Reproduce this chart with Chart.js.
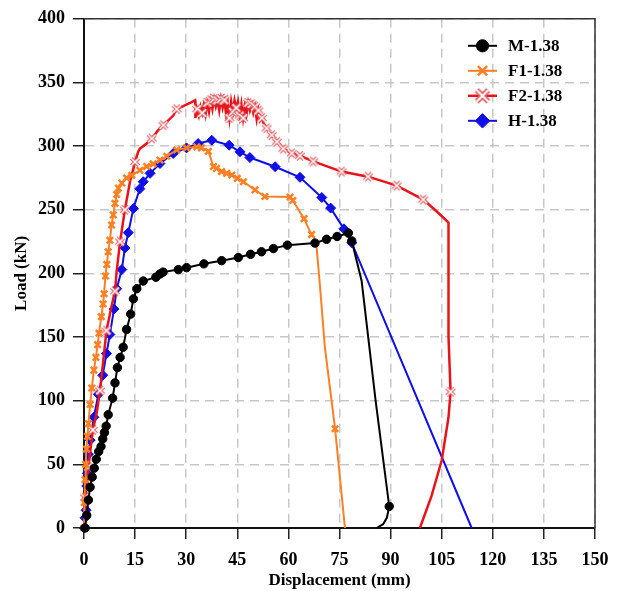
<!DOCTYPE html>
<html>
<head>
<meta charset="utf-8">
<script src="https://cdn.jsdelivr.net/npm/chart.js@4.4.0/dist/chart.umd.min.js"></script>
<style>
  html, body { margin: 0; padding: 0; background: #fff; }
</style>
</head>
<body>
<canvas id="myChart" width="623" height="591"></canvas>
<script>
// axis ticks
const xTicks = [0, 15, 30, 45, 60, 75, 90, 105, 120, 135, 150];
const yTicks = [0, 50, 100, 150, 200, 250, 300, 350, 400];

function upTo(n) { return Array.from({length: n}, (_, i) => i); }

// M-1.38  (last 6 points = unloading branch)
const mDisp = [0.3, 0.8, 1.3, 1.8, 2.4, 3.0, 3.6, 4.3, 5.0, 5.5, 6.0, 6.5, 7.1, 8.4, 9.1, 9.8, 10.6, 11.5, 12.5, 13.7,
               14.5, 15.5, 17.4, 21.1, 22.3, 23.2, 27.7, 30.1, 35.2, 40.4, 45.3, 48.9, 52.1, 55.6, 59.7, 67.8, 71.2, 74.3, 77.6, 78.6,
               81.5, 85.6, 89.6, 88.9, 87.8, 85.9];
const mLoad = [0, 10, 22, 32, 40, 47, 54, 60, 64, 70, 75, 80, 89, 102, 114, 126, 134, 142, 156, 168,
               180, 188, 194, 197, 199.5, 201, 203, 204.5, 207.5, 210, 212.5, 215, 217, 219.5, 222.2, 223.8, 226.8, 229, 231.7, 225.5,
               194, 100, 17, 8, 3, 0];
const mMarks = upTo(40).concat([42]);

// F1-1.38
const f1Disp = [0, 0.1, 0.3, 0.5, 0.7, 1.0, 1.3, 1.8, 2.3, 2.9, 3.5, 4.0, 4.4, 5.1, 5.6, 5.9, 6.3, 6.7, 7.1, 7.6,
                8.1, 8.6, 9.1, 9.6, 10.1, 11.1, 12.5, 14.0, 16.4, 18.4, 20.3, 22.3, 24.3, 27.2, 30.1, 33.1, 34.5, 36.5, 38.0, 38.9,
                40.4, 41.9, 43.4, 45.0, 46.8, 50.2, 53.1, 60.5, 61.3, 64.6, 66.8,
                67.5, 68.3, 69.3, 70.7, 73.7, 76.6];
const f1Load = [0, 20, 38, 50, 62, 72, 82, 97, 110, 124, 134, 144, 153, 166, 176, 184, 198, 207, 217, 226,
                238, 246, 255, 262, 267, 271, 275, 277, 281, 284, 286, 289, 292, 297, 298.6, 299.4, 298.6, 296, 284, 282.5,
                280, 278.6, 277.3, 274.6, 272, 265.6, 260.4, 260, 257.3, 243, 230.5,
                228, 220, 189, 142, 78, 0];
const f1Marks = upTo(51).concat([55]);

// F2-1.38
const f2Disp = [0, 0.1, 0.3, 1.0, 1.3, 2.0, 2.6, 3.7, 4.7, 5.6, 6.6, 7.6, 8.4, 9.1, 9.6, 10.6, 12.0, 13.5, 15.0, 15.9,
                16.4, 18.4, 19.9, 21.8, 23.3, 26.2, 27.2, 29.6, 31.6, 32.6,
                32.7, 33.2, 33.7, 34.2, 34.7, 35.2, 35.7, 36.2, 36.7, 37.2, 37.7, 38.2, 38.7, 39.2, 39.7, 40.2, 40.7, 41.2, 41.7, 42.2,
                42.7, 43.2, 43.7, 44.2, 44.7, 45.2, 45.7, 46.2, 46.7, 47.2, 47.7, 48.2, 48.7, 49.2, 49.7, 50.2, 50.7, 51.2, 51.7, 52.2,
                52.7, 53.6, 55.1, 56.6, 58.5, 61.0, 63.4, 67.3, 75.6, 83.4, 91.8, 99.6,
                103.4, 107.0, 107.0, 107.0, 107.6, 107.0, 105.0, 102.0, 98.6];
const f2Load = [0, 12, 24, 38, 48, 64, 77, 90, 108, 130, 155, 168, 178, 186, 202, 225, 250, 272, 287.6, 295.5,
                298, 302, 306, 312.5, 316.4, 324, 329, 332, 334.5, 336,
                322, 329, 324, 331, 326, 333, 325, 334, 327, 336, 329, 337, 331, 336, 328, 337, 330, 336, 325, 334,
                322, 335, 327, 336, 330, 335, 324, 333, 322, 332, 325, 334, 328, 333, 326, 331, 321, 328, 320, 322,
                318, 314, 308.6, 303.4, 298, 294.3, 292.4, 288, 280, 276, 269, 258,
                249, 240, 200, 150, 107, 87, 53, 25, 0];
const f2Marks = [2, 4, 6, 8, 10, 13, 15, 16, 18, 22, 24, 26,
                 31, 34, 37, 39, 41, 43, 45, 47, 50, 52, 54, 56, 58, 61, 63, 65, 67, 69,
                 71, 72, 73, 74, 75, 76, 77, 78, 79, 80, 81, 86];

// H-1.38
const hDisp = [0, 0.3, 0.6, 0.6, 0.8, 1.0, 1.3, 1.8, 2.9, 4.2, 5.5, 6.6, 7.6, 8.8, 9.6, 11.1, 12.0, 13.0, 14.5, 16.4,
               17.4, 19.4, 22.3, 26.2, 30.1, 33.5, 37.5, 42.6, 45.8, 48.7, 56.1, 63.4, 69.8, 72.4, 76.3, 78.6,
               113.8];
const hLoad = [0, 8, 14, 22, 33, 43, 58, 69, 87, 105, 120, 137, 152, 172, 188, 203, 220, 232, 251, 266.5,
               272, 278.6, 286.3, 294.2, 298.6, 302, 304.6, 300.7, 295.5, 291, 283.8, 275.5, 259.6, 251.3, 235, 224,
               0];
const hMarks = upTo(36);

const FONT = '"Liberation Serif", "Times New Roman", serif';

// hollow X marker for F2
function hollowCross(size) {
    const c = document.createElement('canvas');
    c.width = size; c.height = size;
    const g = c.getContext('2d');
    const p = size * 0.18;
    g.beginPath();
    g.moveTo(p, p); g.lineTo(size - p, size - p);
    g.moveTo(size - p, p); g.lineTo(p, size - p);
    g.strokeStyle = '#e2575d';
    g.lineWidth = size * 0.3;
    g.stroke();
    g.strokeStyle = '#ffffff';
    g.lineWidth = size * 0.12;
    g.stroke();
    return c;
}
const f2Mark = hollowCross(12);
const f2MarkBig = hollowCross(18);

function makeSeries(label, disp, load, marks, style) {
    return Object.assign({
        label: label,
        data: disp.map((x, i) => ({x: x, y: load[i]})),
        showLine: true,
        tension: 0,
        clip: false,
        pointRadius: ctx => marks.includes(ctx.dataIndex) ? style.r : 0,
        pointHoverRadius: 0
    }, style);
}

const datasets = [
    makeSeries('M-1.38', mDisp, mLoad, mMarks,
        {r: 4.2, borderColor: '#000', borderWidth: 2, pointStyle: 'circle',
         pointBackgroundColor: '#000', pointBorderColor: '#000', pointBorderWidth: 1}),
    makeSeries('F1-1.38', f1Disp, f1Load, f1Marks,
        {r: 4.5, borderColor: '#ff7f24', borderWidth: 2, pointStyle: 'crossRot',
         pointBackgroundColor: '#ff7f24', pointBorderColor: '#ff7f24', pointBorderWidth: 2.5}),
    makeSeries('F2-1.38', f2Disp, f2Load, f2Marks,
        {r: 6, borderColor: '#e8141c', borderWidth: 2.5, pointStyle: f2Mark, legendMark: f2MarkBig,
         pointBackgroundColor: '#fff', pointBorderColor: '#e2575d', pointBorderWidth: 1}),
    makeSeries('H-1.38', hDisp, hLoad, hMarks,
        {r: 5, borderColor: '#1010e6', borderWidth: 2, pointStyle: 'rectRot',
         pointBackgroundColor: '#1010e6', pointBorderColor: '#1010e6', pointBorderWidth: 1})
];

// legend drawn inside the plot, line + marker like the original figure
const lineLegend = {
    id: 'lineLegend',
    afterDraw(chart) {
        const ctx = chart.ctx;
        const a = chart.chartArea;
        const x0 = a.right - 127, y0 = a.top + 27;
        chart.data.datasets.forEach((ds, i) => {
            const y = y0 + i * 25;
            ctx.save();
            ctx.strokeStyle = ds.borderColor;
            ctx.lineWidth = ds.borderWidth;
            ctx.beginPath();
            ctx.moveTo(x0, y); ctx.lineTo(x0 + 29, y);
            ctx.stroke();
            const mx = x0 + 14.5;
            if (ds.legendMark) {
                const s = ds.legendMark.width;
                ctx.drawImage(ds.legendMark, mx - s / 2, y - s / 2, s, s);
            } else {
                ctx.fillStyle = ds.pointBackgroundColor;
                ctx.strokeStyle = ds.pointBorderColor;
                ctx.lineWidth = ds.pointBorderWidth;
                Chart.helpers.drawPoint(ctx, {pointStyle: ds.pointStyle, radius: ds.r * 1.45,
                    borderWidth: ds.pointBorderWidth, rotation: 0}, mx, y);
            }
            ctx.fillStyle = '#000';
            ctx.font = 'bold 17px ' + FONT;
            ctx.textBaseline = 'middle';
            ctx.fillText(ds.label, x0 + 40, y + 1);
            ctx.restore();
        });
    }
};

// top and right frame lines
const frame = {
    id: 'frame',
    afterDraw(chart) {
        const ctx = chart.ctx;
        const a = chart.chartArea;
        ctx.save();
        ctx.strokeStyle = '#333';
        ctx.lineWidth = 1.5;
        ctx.beginPath();
        ctx.moveTo(a.left, a.top); ctx.lineTo(a.right, a.top); ctx.lineTo(a.right, a.bottom);
        ctx.stroke();
        ctx.restore();
    }
};

const ctx = document.getElementById('myChart');
const myChart = new Chart(ctx, {
    type: 'scatter',
    data: {datasets: datasets},
    plugins: [lineLegend, frame],
    options: {
        responsive: false,
        animation: false,
        layout: {padding: {top: 17, right: 28, left: 0, bottom: 0}},
        plugins: {legend: {display: false}, tooltip: {enabled: false}},
        scales: {
            x: {
                type: 'linear', min: 0, max: 150,
                afterBuildTicks: s => { s.ticks = xTicks.map(v => ({value: v})); },
                afterFit: s => { s.height = 63; },
                grid: {color: '#c8c8c8', lineWidth: 1.5, tickColor: '#222', tickWidth: 1.5, tickLength: 11, tickBorderDash: []},
                border: {color: '#111', width: 2, dash: [9, 6]},
                ticks: {color: '#000', padding: 11, maxRotation: 0, font: {family: FONT, weight: 'bold', size: 18}},
                title: {display: true, text: 'Displacement (mm)', color: '#000', padding: {top: 0, bottom: 0},
                        font: {family: FONT, weight: 'bold', size: 17}}
            },
            y: {
                type: 'linear', min: 0, max: 400,
                afterBuildTicks: s => { s.ticks = yTicks.map(v => ({value: v})); },
                afterFit: s => { s.width = 84; },
                grid: {color: '#c8c8c8', lineWidth: 1.5, tickColor: '#222', tickWidth: 1.5, tickLength: 11, tickBorderDash: []},
                border: {color: '#111', width: 2, dash: [9, 6]},
                ticks: {color: '#000', padding: 8, font: {family: FONT, weight: 'bold', size: 18}},
                title: {display: true, text: 'Load (kN)', color: '#000', padding: {top: 11, bottom: 0},
                        font: {family: FONT, weight: 'bold', size: 17}}
            }
        }
    }
});
</script>
</body>
</html>
